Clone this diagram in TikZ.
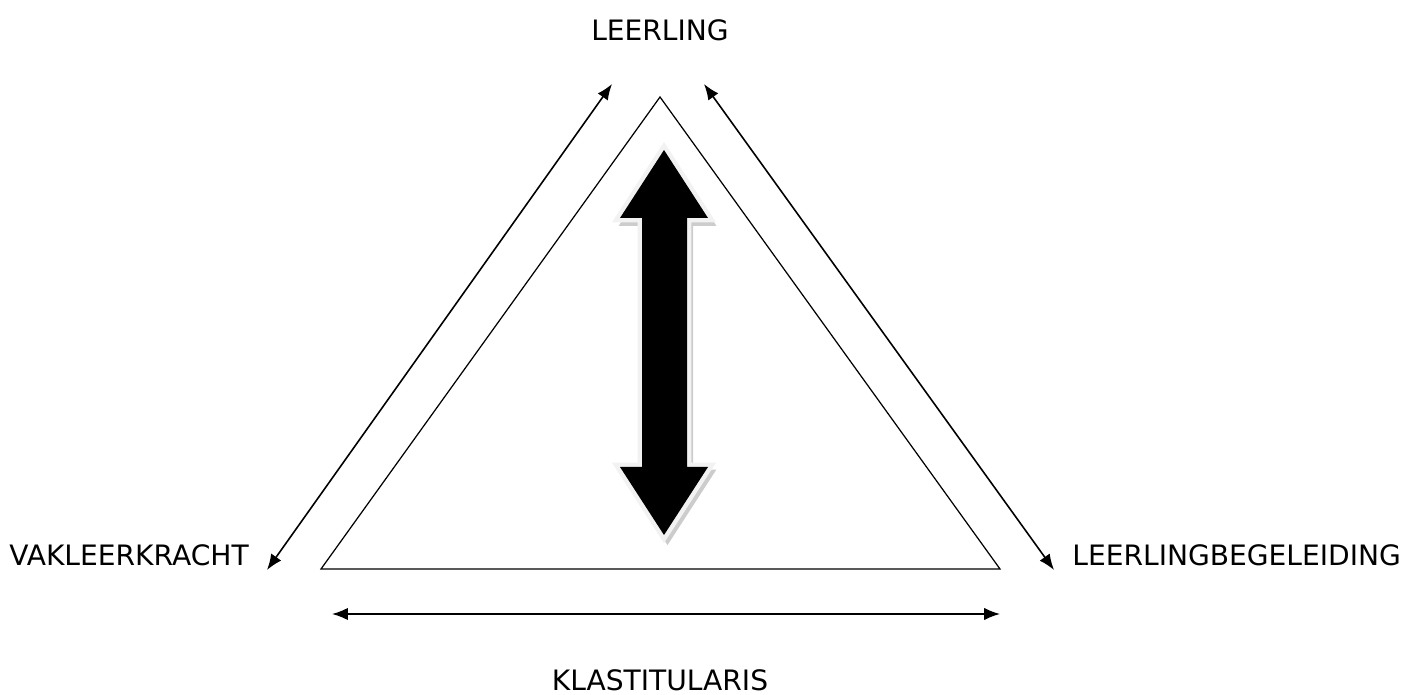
\documentclass[tikz,border=0pt]{standalone}
\usepackage{fontspec}
\setmainfont{DejaVu Sans}
\usetikzlibrary{positioning,arrows.meta}
\tikzset{>={Latex[length=9pt,width=7pt]}}
\tikzset{
  label/.style={font=\fontsize{16}{19}\selectfont, inner sep=0pt},
  relation/.style={<->, line width=0.9pt},
}

\begin{document}
\begin{tikzpicture}[x=0.02cm,y=-0.02cm]
  \useasboundingbox (0,0) rectangle (1403,695);

  % the triangle
  \coordinate (top) at (660,97);
  \coordinate (bl) at (321,569);
  \coordinate (br) at (1000,569);
  \draw[line width=0.7pt] (top) -- (bl) -- (br) -- cycle;

  % the four roles
  \node[label] (leerling) at (660,30) {LEERLING};
  \node[label, anchor=west] (vak) at (9,555) {VAKLEERKRACHT};
  \node[label, anchor=west] (begel) at (1072,555) {LEERLINGBEGELEIDING};
  \node[label] (klas) at (660,680) {KLASTITULARIS};

  % the arrows along the sides
  \coordinate (l1) at (612,84);
  \coordinate (l2) at (267,570);
  \coordinate (r1) at (704,84);
  \coordinate (r2) at (1054,570);
  \coordinate (b1) at (332,614);
  \coordinate (b2) at (1000,614);
  \draw[relation] (l1) -- (l2);
  \draw[relation] (r1) -- (r2);
  \draw[relation] (b1) -- (b2);

  % the big arrow in the middle
  \def\bigarrow{(664,150) -- (708,218) -- (687,218) -- (687,467) -- (708,467)
    -- (664,535) -- (620,467) -- (642,467) -- (642,218) -- (620,218) -- cycle}
  \draw[gray!40, line width=3pt, line join=miter, xshift=2, yshift=-3] \bigarrow;
  \draw[gray!10, line width=5pt, line join=miter] \bigarrow;
  \fill[black] \bigarrow;
\end{tikzpicture}
\end{document}
